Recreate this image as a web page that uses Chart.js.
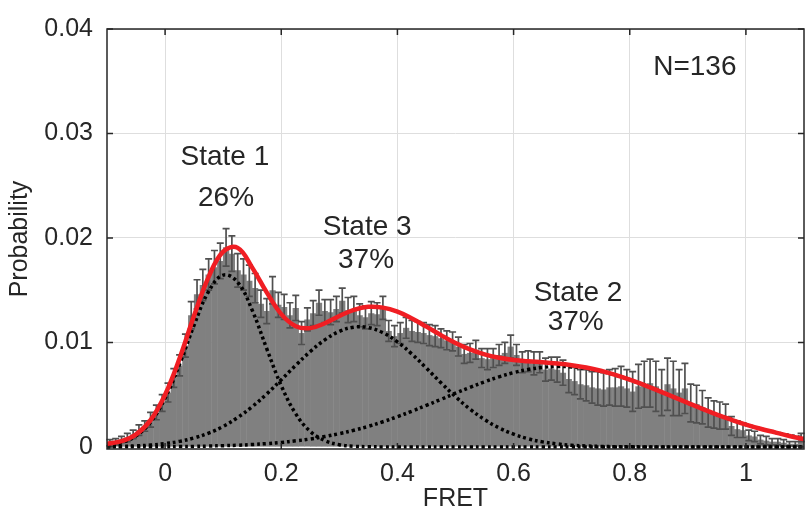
<!DOCTYPE html>
<html>
<head>
<meta charset="utf-8">
<script src="https://cdn.jsdelivr.net/npm/chart.js@4.4.1/dist/chart.umd.min.js"></script>
<style>
  html, body { margin: 0; padding: 0; background: #fff; }
  canvas { display: block; }
</style>
</head>
<body>
<canvas id="fretChart" width="810" height="512"></canvas>
<script>
// FRET histogram, bins 0.01 wide, first bin centred at -0.095
const binStart = -0.095;
const binWidth = 0.01;
const probability = [
  0.0004, 0.0005, 0.0007, 0.0009, 0.0012, 0.0016, 0.0020, 0.0026, 0.0033, 0.0042,
  0.0052, 0.0066, 0.0078, 0.0097, 0.0126, 0.0146, 0.0155, 0.0165, 0.0172, 0.0178,
  0.0191, 0.0185, 0.0169, 0.0165, 0.0159, 0.0152, 0.0137, 0.0130, 0.0150, 0.0136,
  0.0134, 0.0126, 0.0133, 0.0109, 0.0122, 0.0128, 0.0138, 0.0130, 0.0129, 0.0132,
  0.0140, 0.0131, 0.0132, 0.0126, 0.0124, 0.0128, 0.0127, 0.0133, 0.0111, 0.0106,
  0.0109, 0.0114, 0.0111, 0.0110, 0.0109, 0.0107, 0.0106, 0.0104, 0.0102, 0.0101,
  0.0096, 0.0089, 0.0090, 0.0093, 0.0085, 0.0084, 0.0085, 0.0088, 0.0090, 0.0096,
  0.0088, 0.0081, 0.0082, 0.0080, 0.0081, 0.0074, 0.0075, 0.0074, 0.0071, 0.0065,
  0.0063, 0.0060, 0.0059, 0.0057, 0.0056, 0.0055, 0.0057, 0.0057, 0.0058, 0.0056,
  0.0053, 0.0058, 0.0060, 0.0061, 0.0058, 0.0052, 0.0060, 0.0056, 0.0052, 0.0056,
  0.0042, 0.0041, 0.0038, 0.0033, 0.0031, 0.0030, 0.0029, 0.0020, 0.0017, 0.0016,
  0.0011, 0.0010, 0.0007, 0.0006, 0.0005, 0.0005, 0.0004, 0.0003, 0.0003, 0.0009
];
const probabilityErr = [
  0.0003, 0.0003, 0.0003, 0.0004, 0.0004, 0.0005, 0.0005, 0.0007, 0.0007, 0.0008,
  0.0009, 0.0009, 0.0010, 0.0011, 0.0013, 0.0014, 0.0015, 0.0015, 0.0016, 0.0017,
  0.0018, 0.0017, 0.0016, 0.0015, 0.0015, 0.0014, 0.0013, 0.0012, 0.0013, 0.0012,
  0.0012, 0.0012, 0.0012, 0.0011, 0.0011, 0.0012, 0.0012, 0.0011, 0.0012, 0.0012,
  0.0012, 0.0012, 0.0012, 0.0011, 0.0011, 0.0011, 0.0011, 0.0011, 0.0010, 0.0010,
  0.0010, 0.0010, 0.0010, 0.0010, 0.0010, 0.0010, 0.0010, 0.0009, 0.0009, 0.0009,
  0.0009, 0.0009, 0.0009, 0.0009, 0.0009, 0.0010, 0.0009, 0.0010, 0.0010, 0.0011,
  0.0010, 0.0010, 0.0010, 0.0011, 0.0010, 0.0011, 0.0011, 0.0012, 0.0012, 0.0013,
  0.0013, 0.0014, 0.0015, 0.0015, 0.0016, 0.0016, 0.0017, 0.0018, 0.0019, 0.0018,
  0.0019, 0.0021, 0.0022, 0.0023, 0.0024, 0.0022, 0.0025, 0.0026, 0.0022, 0.0024,
  0.0018, 0.0018, 0.0016, 0.0014, 0.0013, 0.0013, 0.0012, 0.0009, 0.0008, 0.0007,
  0.0005, 0.0005, 0.0004, 0.0004, 0.0003, 0.0003, 0.0003, 0.0002, 0.0002, 0.0004
];

// fitted curves, read every 0.025 from -0.1 to 1.1
const curveStart = -0.1;
const curveStep = 0.025;
const fitTotal = [
  0.00030, 0.00055, 0.00120, 0.00257, 0.00500, 0.00848, 0.01257, 0.01628, 0.01870, 0.01905,
  0.01716, 0.01479, 0.01271, 0.01155, 0.01137, 0.01184, 0.01253, 0.01312, 0.01341, 0.01333,
  0.01294, 0.01229, 0.01151, 0.01070, 0.00995, 0.00933, 0.00885, 0.00853, 0.00832, 0.00819,
  0.00810, 0.00798, 0.00782, 0.00760, 0.00729, 0.00690, 0.00644, 0.00592, 0.00537, 0.00479,
  0.00421, 0.00364, 0.00310, 0.00260, 0.00214, 0.00174, 0.00139, 0.00105, 0.00075
];
const fitState1 = [
  0.00013, 0.00040, 0.00105, 0.00237, 0.00466, 0.00792, 0.01166, 0.01488, 0.01645, 0.01576,
  0.01308, 0.00940, 0.00586, 0.00316, 0.00148, 0.00060, 0.00021, 0.00006, 0.00002, 0,
  0, 0, 0, 0, 0, 0, 0, 0, 0, 0,
  0, 0, 0, 0, 0, 0, 0, 0, 0, 0,
  0, 0, 0, 0, 0, 0, 0, 0, 0
];
const fitState3 = [
  0.00003, 0.00005, 0.00010, 0.00018, 0.00032, 0.00053, 0.00086, 0.00132, 0.00196, 0.00281,
  0.00385, 0.00507, 0.00642, 0.00781, 0.00913, 0.01025, 0.01106, 0.01146, 0.01142, 0.01093,
  0.01005, 0.00888, 0.00753, 0.00614, 0.00481, 0.00362, 0.00262, 0.00182, 0.00122, 0.00078,
  0.00048, 0.00029, 0.00016, 0.00009, 0.00005, 0.00002, 0.00001, 0, 0, 0,
  0, 0, 0, 0, 0, 0, 0, 0, 0
];
const fitState2 = [
  0, 0.00001, 0.00001, 0.00002, 0.00002, 0.00004, 0.00005, 0.00008, 0.00012, 0.00016,
  0.00023, 0.00032, 0.00043, 0.00058, 0.00076, 0.00099, 0.00127, 0.00159, 0.00197, 0.00241,
  0.00289, 0.00342, 0.00398, 0.00455, 0.00514, 0.00570, 0.00623, 0.00671, 0.00711, 0.00741,
  0.00761, 0.00770, 0.00766, 0.00751, 0.00724, 0.00688, 0.00643, 0.00592, 0.00537, 0.00479,
  0.00421, 0.00364, 0.00310, 0.00260, 0.00214, 0.00174, 0.00139, 0.00110, 0.00085
];

const xTicks = [0, 0.2, 0.4, 0.6, 0.8, 1];
const yTicks = [0, 0.01, 0.02, 0.03, 0.04];

// text placed in data coordinates
const notes = [
  { text: 'State 1', x: 0.103, y: 0.0277 },
  { text: '26%', x: 0.105, y: 0.0238 },
  { text: 'State 3', x: 0.348, y: 0.0210 },
  { text: '37%', x: 0.346, y: 0.0179 },
  { text: 'State 2', x: 0.711, y: 0.0147 },
  { text: '37%', x: 0.707, y: 0.0119 },
  { text: 'N=136', x: 0.912, y: 0.0363 }
];

const binCenters = probability.map((_, i) => binStart + binWidth * i);
const curveX = fitTotal.map((_, i) => curveStart + curveStep * i);
const toPoints = (xs, ys) => ys.map((v, i) => ({ x: xs[i], y: v }));

const textColor = '#262626';
Chart.defaults.font.family = '"Liberation Sans", Arial, Helvetica, sans-serif';
Chart.defaults.color = textColor;

const errorBars = {
  id: 'errorBars',
  afterDatasetDraw(chart, args) {
    if (args.index !== 0) return;
    const { ctx, scales: { x, y } } = chart;
    ctx.save();
    ctx.strokeStyle = '#505050';
    ctx.lineWidth = 1.7;
    ctx.beginPath();
    probability.forEach((v, i) => {
      const px = x.getPixelForValue(binCenters[i]);
      const top = y.getPixelForValue(v + probabilityErr[i]);
      const bot = y.getPixelForValue(v - probabilityErr[i]);
      ctx.moveTo(px, top); ctx.lineTo(px, bot);
      ctx.moveTo(px - 3.5, top); ctx.lineTo(px + 3.5, top);
      ctx.moveTo(px - 3.5, bot); ctx.lineTo(px + 3.5, bot);
    });
    ctx.stroke();
    ctx.restore();
  }
};

// MATLAB-style box with inward ticks, plus the text notes
const frame = {
  id: 'frame',
  afterDraw(chart) {
    const { ctx, chartArea: a, scales: { x, y } } = chart;
    ctx.save();
    ctx.strokeStyle = textColor;
    ctx.lineWidth = 1.5;
    ctx.strokeRect(a.left, a.top, a.right - a.left, a.bottom - a.top);
    ctx.beginPath();
    const tl = 6;
    xTicks.forEach(v => {
      const px = x.getPixelForValue(v);
      ctx.moveTo(px, a.bottom); ctx.lineTo(px, a.bottom - tl);
      ctx.moveTo(px, a.top); ctx.lineTo(px, a.top + tl);
    });
    yTicks.forEach(v => {
      const py = y.getPixelForValue(v);
      ctx.moveTo(a.left, py); ctx.lineTo(a.left + tl, py);
      ctx.moveTo(a.right, py); ctx.lineTo(a.right - tl, py);
    });
    ctx.stroke();

    ctx.fillStyle = textColor;
    ctx.font = '28px "Liberation Sans", Arial, sans-serif';
    ctx.textAlign = 'center';
    ctx.textBaseline = 'middle';
    notes.forEach(n => {
      ctx.fillText(n.text, x.getPixelForValue(n.x), y.getPixelForValue(n.y));
    });
    ctx.restore();
  }
};

const dotted = {
  type: 'line',
  borderColor: '#000',
  borderWidth: 3.5,
  borderDash: [3, 3],
  borderCapStyle: 'butt',
  pointRadius: 0,
  tension: 0.4,
  order: 2
};

new Chart(document.getElementById('fretChart'), {
  type: 'bar',
  data: {
    datasets: [
      {
        type: 'bar',
        data: toPoints(binCenters, probability),
        backgroundColor: '#808080',
        borderWidth: 0,
        barPercentage: 1.08,
        categoryPercentage: 1,
        order: 5
      },
      { ...dotted, data: toPoints(curveX, fitState1) },
      { ...dotted, data: toPoints(curveX, fitState3) },
      { ...dotted, data: toPoints(curveX, fitState2) },
      {
        type: 'line',
        data: toPoints(curveX, fitTotal),
        borderColor: '#f01e23',
        borderWidth: 4.5,
        pointRadius: 0,
        tension: 0.4,
        order: 1
      }
    ]
  },
  options: {
    responsive: false,
    animation: false,
    layout: { padding: { top: 21, right: 6, left: 0, bottom: 0 } },
    plugins: { legend: { display: false }, tooltip: { enabled: false } },
    scales: {
      x: {
        type: 'linear',
        min: -0.1,
        max: 1.1,
        offset: false,
        afterBuildTicks: s => { s.ticks = xTicks.map(v => ({ value: v })); },
        afterFit: s => { s.height = 63; },
        grid: { color: '#dedede', lineWidth: 1, drawTicks: false, offset: false },
        border: { display: false },
        ticks: { font: { size: 25 }, padding: 10, maxRotation: 0, callback: v => String(v) },
        title: { display: true, text: 'FRET', font: { size: 25, lineHeight: 1 }, padding: 0 }
      },
      y: {
        min: -0.0002,
        max: 0.04,
        afterBuildTicks: s => { s.ticks = yTicks.map(v => ({ value: v })); },
        afterFit: s => { s.width = 107; },
        grid: { color: '#dedede', lineWidth: 1, drawTicks: false },
        border: { display: false },
        ticks: { font: { size: 25 }, padding: 14, callback: v => (v === 0 ? '0' : v.toFixed(2)) },
        title: { display: true, text: 'Probability', font: { size: 25, lineHeight: 1 }, padding: { top: 8, bottom: 0 } }
      }
    }
  },
  plugins: [errorBars, frame]
});
</script>
</body>
</html>
